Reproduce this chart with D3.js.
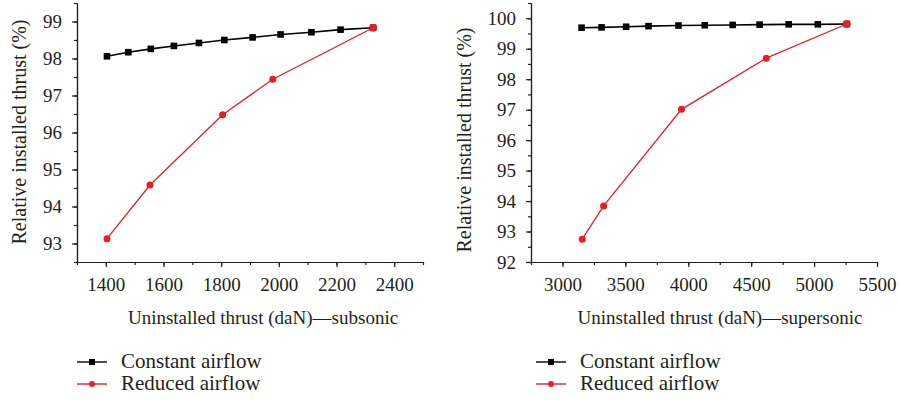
<!DOCTYPE html>
<html>
<head>
<meta charset="utf-8">
<script src="https://cdnjs.cloudflare.com/ajax/libs/d3/7.8.5/d3.min.js"></script>
<style>
  body { margin: 0; background: #fff; }
</style>
</head>
<body>
<svg class="chart" width="900" height="400"></svg>
<script>

// Subsonic panel data.
var subConstX = [1404, 1478, 1556, 1636, 1723, 1811, 1909, 2006, 2113, 2214, 2327];
var subConstY = [98.06, 98.17, 98.26, 98.34, 98.42, 98.50, 98.57, 98.65, 98.71, 98.78, 98.83];
var subReducedX = [1404, 1553, 1805, 1979, 2327];
var subReducedY = [93.13, 94.58, 96.48, 97.44, 98.83];
var subXTicks = [1400, 1600, 1800, 2000, 2200, 2400];
var subYTicks = [93, 94, 95, 96, 97, 98, 99];

// Supersonic panel data.
var supConstX = [3152, 3311, 3506, 3684, 3922, 4131, 4353, 4567, 4798, 5030, 5260];
var supConstY = [99.69, 99.70, 99.72, 99.74, 99.76, 99.77, 99.78, 99.79, 99.80, 99.80, 99.81];
var supReducedX = [3157, 3327, 3946, 4620, 5260];
var supReducedY = [92.75, 93.84, 97.01, 98.69, 99.81];
var supXTicks = [3000, 3500, 4000, 4500, 5000, 5500];
var supYTicks = [92, 93, 94, 95, 96, 97, 98, 99, 100];

var seriesNames = ["Constant airflow", "Reduced airflow"];
var yTitle = "Relative installed thrust (%)";

var red = "#ec1c24";
var ink = "#231f20";
var serif = "'Liberation Serif', 'Times New Roman', serif";

/*
* Draw one panel with both series, axes and legend.
*/
function drawPanel(svg, p) {

  var g = svg.append("g")
      .attr("transform", "translate(" + p.left + "," + p.top + ")");

  var x = d3.scaleLinear().domain(p.xDomain).range([0, p.width]);
  var y = d3.scaleLinear().domain(p.yDomain).range([p.height, 0]);

  // Minor ticks.
  g.append("g")
      .attr("transform", "translate(0," + p.height + ")")
      .call(d3.axisBottom(x).tickValues(d3.range(p.xDomain[0], p.xDomain[1] + 1, p.xMinor))
        .tickSize(3).tickSizeOuter(0).tickFormat(""));
  g.append("g")
      .call(d3.axisLeft(y).tickValues(d3.range(p.yDomain[0], p.yDomain[1] + 0.01, 0.5))
        .tickSize(3).tickSizeOuter(0).tickFormat(""));

  // Major ticks with labels.
  var xAxis = g.append("g")
      .attr("transform", "translate(0," + p.height + ")")
      .call(d3.axisBottom(x).tickValues(p.xTicks).tickSize(5).tickSizeOuter(0).tickFormat(d3.format("d")));
  xAxis.selectAll("text").attr("y", 16).attr("class", "tick-label");

  var yAxis = g.append("g")
      .call(d3.axisLeft(y).tickValues(p.yTicks).tickSize(5).tickSizeOuter(0).tickFormat(d3.format("d")));
  yAxis.selectAll("text").attr("x", -15).attr("class", "tick-label");

  g.selectAll(".domain, .tick line").attr("stroke", ink).attr("stroke-width", 1.2);

  // Axis titles.
  g.append("text")
      .attr("class", "tick-label")
      .attr("x", p.xTitleX)
      .attr("y", p.height + 62)
      .attr("text-anchor", "middle")
      .text(p.xTitle);

  g.append("text")
      .attr("class", "y-title")
      .attr("transform", "translate(" + p.yTitleX + "," + p.yTitleY + ") rotate(-90)")
      .attr("text-anchor", "middle")
      .text(yTitle);

  var line = d3.line()
      .x(function(d) { return x(d[0]); })
      .y(function(d) { return y(d[1]); });

  var constData = d3.zip(p.constX, p.constY);
  var reducedData = d3.zip(p.reducedX, p.reducedY);

  // Reduced airflow series.
  g.append("path")
      .datum(reducedData)
      .attr("fill", "none")
      .attr("stroke", red)
      .attr("stroke-width", 1.3)
      .attr("d", line);
  g.selectAll(".dot")
      .data(reducedData)
    .enter().append("circle")
      .attr("cx", function(d) { return x(d[0]); })
      .attr("cy", function(d) { return y(d[1]); })
      .attr("r", 3.5)
      .attr("fill", red);

  // Constant airflow series.
  g.append("path")
      .datum(constData)
      .attr("fill", "none")
      .attr("stroke", "#000")
      .attr("stroke-width", 1.6)
      .attr("d", line);
  g.selectAll(".sq")
      .data(constData)
    .enter().append("rect")
      .attr("x", function(d) { return x(d[0]) - 3.3; })
      .attr("y", function(d) { return y(d[1]) - 3.3; })
      .attr("width", 6.6)
      .attr("height", 6.6)
      .attr("fill", "#000");

  // Red end point sits on top of the last square.
  var last = reducedData[reducedData.length - 1];
  g.append("circle")
      .attr("cx", x(last[0]))
      .attr("cy", y(last[1]))
      .attr("r", 3.8)
      .attr("fill", red);

  // Legend.
  var legend = svg.append("g")
      .attr("transform", "translate(" + p.legendX + ",362)");
  var colors = ["#000", red];
  seriesNames.forEach(function(name, i) {
    var row = legend.append("g").attr("transform", "translate(0," + i * 22 + ")");
    row.append("line")
        .attr("x1", 0).attr("x2", 30)
        .attr("stroke", colors[i])
        .attr("stroke-width", 1.4);
    if (i == 0) {
      row.append("rect").attr("x", 12).attr("y", -3).attr("width", 6).attr("height", 6).attr("fill", colors[i]);
    } else {
      row.append("circle").attr("cx", 15).attr("r", 3).attr("fill", colors[i]);
    }
    row.append("text")
        .attr("class", "legend-label")
        .attr("x", 44)
        .attr("dy", "0.3em")
        .text(name);
  });
}

var svg = d3.select(".chart");

drawPanel(svg, {
  left: 77, top: 3, width: 346, height: 259,
  xDomain: [1300, 2500], yDomain: [92.5, 99.5], xMinor: 100,
  xTicks: subXTicks, yTicks: subYTicks,
  constX: subConstX, constY: subConstY,
  reducedX: subReducedX, reducedY: subReducedY,
  xTitle: "Uninstalled thrust (daN)\u2014subsonic",
  xTitleX: 186, yTitleX: -51, yTitleY: 129,
  legendX: 77
});

drawPanel(svg, {
  left: 531, top: 3, width: 346, height: 259,
  xDomain: [2750, 5500], yDomain: [92, 100.5], xMinor: 250,
  xTicks: supXTicks, yTicks: supYTicks,
  constX: supConstX, constY: supConstY,
  reducedX: supReducedX, reducedY: supReducedY,
  xTitle: "Uninstalled thrust (daN)\u2014supersonic",
  xTitleX: 189, yTitleX: -60, yTitleY: 137,
  legendX: 536
});

// Same serif face on every label.
svg.selectAll("text")
    .attr("font-family", null)
    .style("font-family", serif)
    .style("fill", ink);
svg.selectAll(".tick-label").style("font-size", "19px");
svg.selectAll(".y-title").style("font-size", "20px");
svg.selectAll(".legend-label").style("font-size", "21px");

</script>
</body>
</html>
